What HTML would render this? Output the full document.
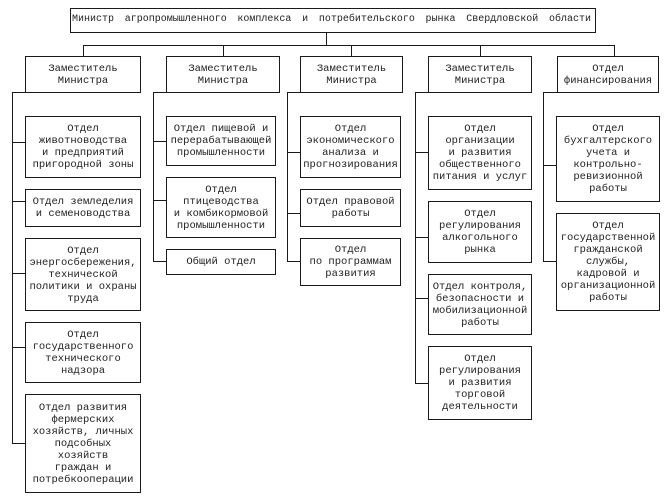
<!DOCTYPE html>
<html>
<head>
<meta charset="utf-8">
<style>
html,body{margin:0;padding:0;background:#fff;}
body{width:666px;height:500px;position:relative;overflow:hidden;font-family:"Liberation Mono","Noto Sans CJK SC",monospace;color:#222;}
.b{position:absolute;box-sizing:border-box;border:1px solid #1a1a1a;background:#fff;display:flex;align-items:center;justify-content:center;text-align:center;font-size:10.5px;line-height:12px;white-space:nowrap;}
.l{position:absolute;background:#1a1a1a;}
.t{position:absolute;left:72px;top:14px;width:519px;font-size:10px;line-height:12px;text-align:justify;text-align-last:justify;white-space:normal;}
</style>
</head>
<body>
<!-- title -->
<div class="b" style="left:70px;top:8px;width:526px;height:25px;"></div>
<div class="t">Министр агропромышленного комплекса и потребительского рынка Свердловской области</div>

<!-- top connectors -->
<div class="l" style="left:326px;top:32px;width:1px;height:13px;"></div>
<div class="l" style="left:83px;top:45px;width:532px;height:1px;"></div>
<div class="l" style="left:83px;top:45px;width:1px;height:11px;"></div>
<div class="l" style="left:223px;top:45px;width:1px;height:11px;"></div>
<div class="l" style="left:351px;top:45px;width:1px;height:11px;"></div>
<div class="l" style="left:480px;top:45px;width:1px;height:11px;"></div>
<div class="l" style="left:614px;top:45px;width:1px;height:11px;"></div>

<!-- deputy boxes -->
<div class="b" style="left:25px;top:56px;width:116px;height:37px;">Заместитель<br>Министра</div>
<div class="b" style="left:166px;top:56px;width:114px;height:37px;">Заместитель<br>Министра</div>
<div class="b" style="left:300px;top:56px;width:103px;height:37px;">Заместитель<br>Министра</div>
<div class="b" style="left:428px;top:56px;width:104px;height:37px;">Заместитель<br>Министра</div>
<div class="b" style="left:557px;top:56px;width:102px;height:37px;">Отдел<br>финансирования</div>

<!-- column verticals -->
<div class="l" style="left:12px;top:92px;width:1px;height:352px;"></div>
<div class="l" style="left:153px;top:92px;width:1px;height:170px;"></div>
<div class="l" style="left:287px;top:92px;width:1px;height:170px;"></div>
<div class="l" style="left:415px;top:92px;width:1px;height:292px;"></div>
<div class="l" style="left:543px;top:92px;width:1px;height:170px;"></div>
<!-- top horizontals to deputy boxes -->
<div class="l" style="left:12px;top:92px;width:14px;height:1px;"></div>
<div class="l" style="left:153px;top:92px;width:14px;height:1px;"></div>
<div class="l" style="left:287px;top:92px;width:14px;height:1px;"></div>
<div class="l" style="left:415px;top:92px;width:14px;height:1px;"></div>
<div class="l" style="left:543px;top:92px;width:15px;height:1px;"></div>

<!-- column 1 connectors -->
<div class="l" style="left:12px;top:142px;width:14px;height:1px;"></div>
<div class="l" style="left:12px;top:201px;width:14px;height:1px;"></div>
<div class="l" style="left:12px;top:273px;width:14px;height:1px;"></div>
<div class="l" style="left:12px;top:347px;width:14px;height:1px;"></div>
<div class="l" style="left:12px;top:443px;width:14px;height:1px;"></div>
<!-- column 1 boxes -->
<div class="b" style="left:25px;top:116px;width:116px;height:62px;">Отдел<br>животноводства<br>и предприятий<br>пригородной зоны</div>
<div class="b" style="left:25px;top:189px;width:116px;height:38px;">Отдел земледелия<br>и семеноводства</div>
<div class="b" style="left:25px;top:238px;width:116px;height:73px;">Отдел<br>энергосбережения,<br>технической<br>политики и охраны<br>труда</div>
<div class="b" style="left:25px;top:322px;width:116px;height:61px;">Отдел<br>государственного<br>технического<br>надзора</div>
<div class="b" style="left:25px;top:394px;width:116px;height:99px;">Отдел развития<br>фермерских<br>хозяйств, личных<br>подсобных<br>хозяйств<br>граждан и<br>потребкооперации</div>

<!-- column 2 -->
<div class="l" style="left:153px;top:141px;width:14px;height:1px;"></div>
<div class="l" style="left:153px;top:200px;width:14px;height:1px;"></div>
<div class="l" style="left:153px;top:261px;width:14px;height:1px;"></div>
<div class="b" style="left:166px;top:116px;width:110px;height:50px;">Отдел пищевой и<br>перерабатывающей<br>промышленности</div>
<div class="b" style="left:166px;top:177px;width:110px;height:61px;">Отдел<br>птицеводства<br>и комбикормовой<br>промышленности</div>
<div class="b" style="left:166px;top:249px;width:110px;height:26px;">Общий отдел</div>

<!-- column 3 -->
<div class="l" style="left:287px;top:152px;width:14px;height:1px;"></div>
<div class="l" style="left:287px;top:213px;width:14px;height:1px;"></div>
<div class="l" style="left:287px;top:261px;width:14px;height:1px;"></div>
<div class="b" style="left:300px;top:116px;width:101px;height:62px;">Отдел<br>экономического<br>анализа и<br>прогнозирования</div>
<div class="b" style="left:300px;top:189px;width:101px;height:38px;">Отдел правовой<br>работы</div>
<div class="b" style="left:300px;top:238px;width:101px;height:48px;">Отдел<br>по программам<br>развития</div>

<!-- column 4 -->
<div class="l" style="left:415px;top:152px;width:14px;height:1px;"></div>
<div class="l" style="left:415px;top:237px;width:14px;height:1px;"></div>
<div class="l" style="left:415px;top:298px;width:14px;height:1px;"></div>
<div class="l" style="left:415px;top:383px;width:14px;height:1px;"></div>
<div class="b" style="left:428px;top:116px;width:104px;height:74px;">Отдел<br>организации<br>и развития<br>общественного<br>питания и услуг</div>
<div class="b" style="left:428px;top:201px;width:104px;height:62px;">Отдел<br>регулирования<br>алкогольного<br>рынка</div>
<div class="b" style="left:428px;top:274px;width:104px;height:61px;">Отдел контроля,<br>безопасности и<br>мобилизационной<br>работы</div>
<div class="b" style="left:428px;top:346px;width:104px;height:74px;">Отдел<br>регулирования<br>и развития<br>торговой<br>деятельности</div>

<!-- column 5 -->
<div class="l" style="left:543px;top:165px;width:14px;height:1px;"></div>
<div class="l" style="left:543px;top:261px;width:14px;height:1px;"></div>
<div class="b" style="left:556px;top:116px;width:104px;height:86px;">Отдел<br>бухгалтерского<br>учета и<br>контрольно-<br>ревизионной<br>работы</div>
<div class="b" style="left:556px;top:213px;width:104px;height:98px;">Отдел<br>государственной<br>гражданской<br>службы,<br>кадровой и<br>организационной<br>работы</div>
</body>
</html>
